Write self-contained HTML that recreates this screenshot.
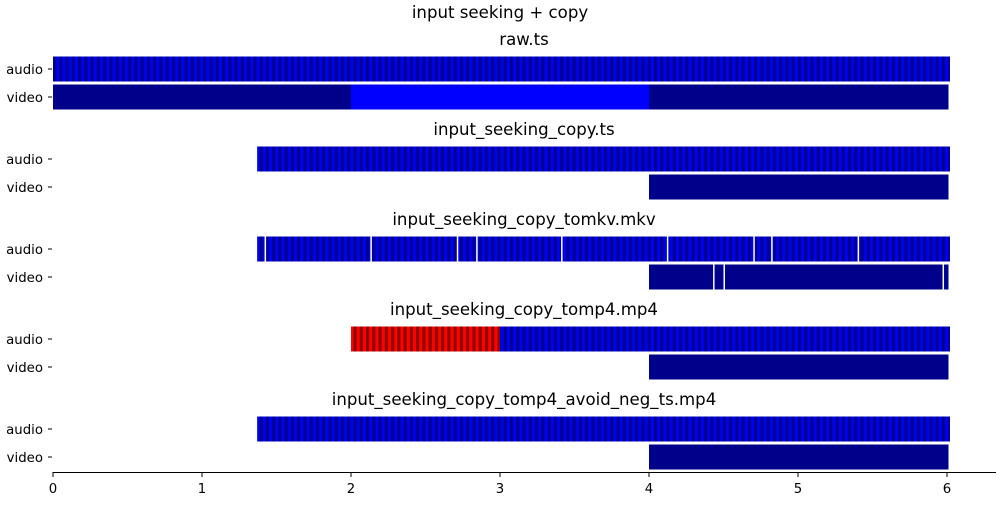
<!DOCTYPE html>
<html><head><meta charset="utf-8"><style>
body{margin:0;background:#fff;}
svg text{font-family:"DejaVu Sans","Liberation Sans",sans-serif;}
</style></head><body>
<svg id="chart" width="1000" height="500" xmlns="http://www.w3.org/2000/svg">
<defs>
<pattern id="stripeBlue" patternUnits="userSpaceOnUse" x="53" y="0" width="6.26" height="10">
<rect width="6.26" height="10" fill="#0000f0"/><rect width="3.1" height="10" fill="#00008b"/>
</pattern>
<pattern id="stripeRed" patternUnits="userSpaceOnUse" x="53" y="0" width="6.26" height="10">
<rect width="6.26" height="10" fill="#ff0000"/><rect width="3.1" height="10" fill="#8b0000"/>
</pattern>
</defs>
<g id="marks"></g>
</svg>
<script>
const titles = ["raw.ts","input_seeking_copy.ts","input_seeking_copy_tomkv.mkv","input_seeking_copy_tomp4.mp4","input_seeking_copy_tomp4_avoid_neg_ts.mp4"];
const xTicks = [0,1,2,3,4,5,6];
const audioSegs = [
  [[0,6.02,"a"]],
  [[1.37,6.02,"a"]],
  [[1.37,1.42,"a"],[1.43,2.13,"a"],[2.14,2.71,"a"],[2.72,2.84,"a"],[2.85,3.41,"a"],[3.42,4.12,"a"],[4.13,4.70,"a"],[4.71,4.82,"a"],[4.83,5.40,"a"],[5.41,6.02,"a"]],
  [[2.0,3.0,"r"],[3.0,6.02,"a"]],
  [[1.37,6.02,"a"]]
];
const videoSegs = [
  [[0,2,"d"],[2,4,"b"],[4,6.01,"d"]],
  [[4,6.01,"d"]],
  [[4,4.43,"d"],[4.44,4.5,"d"],[4.51,5.97,"d"],[5.98,6.01,"d"]],
  [[4,6.01,"d"]],
  [[4,6.01,"d"]]
];
const NS="http://www.w3.org/2000/svg";
const g=document.getElementById('marks');
const x=v=>53+v*149;
const fills={a:"url(#stripeBlue)",r:"url(#stripeRed)",d:"#00008b",b:"#0000ff"};
function el(tag,attrs){const e=document.createElementNS(NS,tag);for(const k in attrs)e.setAttribute(k,attrs[k]);g.appendChild(e);return e;}
const st=el('text',{x:500,y:18,'text-anchor':'middle','font-size':16.6});
st.textContent="input seeking + copy";


titles.forEach((t,i)=>{
  const base=90*i;
  const tt=el('text',{x:524,y:45+base,'text-anchor':'middle','font-size':16.6});
  tt.textContent=t;
  
  
  [["audio",69,audioSegs[i]],["video",97,videoSegs[i]]].forEach(([lab,cy,segs])=>{
    const yc=cy+base;
    const l=el('text',{x:43,y:yc+5,'text-anchor':'end','font-size':13.3});
    l.textContent=lab;
    
    
    const tk=el('line',{x1:48,x2:52,y1:yc,y2:yc,stroke:'#000','stroke-width':1});
    
    
    segs.forEach(s=>{
      const r=el('rect',{x:x(s[0]),y:yc-12.5,width:x(s[1])-x(s[0]),height:25,fill:fills[s[2]]});
      
      
    });
  });
});
const ax=el('line',{x1:53,x2:996,y1:472.5,y2:472.5,stroke:'#000','stroke-width':1});


xTicks.forEach(v=>{
  const t=el('line',{x1:x(v),x2:x(v),y1:472,y2:477,stroke:'#000','stroke-width':1});
  
  
  const tl=el('text',{x:x(v),y:493,'text-anchor':'middle','font-size':13.3});
  tl.textContent=String(v);
  
  
});
</script>
</body></html>
